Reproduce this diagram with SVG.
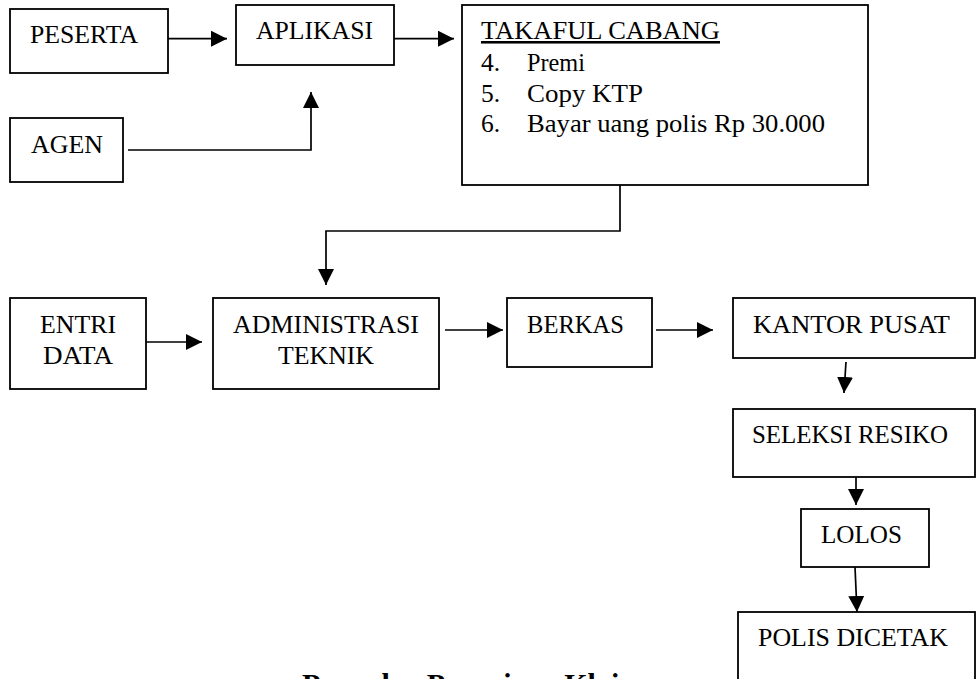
<svg xmlns="http://www.w3.org/2000/svg" width="977" height="679" viewBox="0 0 977 679">
  <style>
    .box { fill: #ffffff; stroke: #000000; stroke-width: 1.8; }
    .lbl { font-family: "Liberation Serif", "Times New Roman", serif; font-size: 25.5px; fill: #000000; }
    .ttl { font-family: "Liberation Serif", "Times New Roman", serif; font-size: 30px; font-weight: bold; fill: #000000; }
    .con { fill: none; stroke: #000000; stroke-width: 1.7; marker-end: url(#ah); }
  </style>
  <defs>
    <marker id="ah" markerUnits="userSpaceOnUse" markerWidth="16" markerHeight="16" viewBox="0 0 14 14" refX="14" refY="7" orient="auto">
      <path d="M0,0 L14,7 L0,14 Z" fill="#000000"/>
    </marker>
  </defs>
  <rect width="977" height="679" fill="#ffffff"/>

  <g id="connectors">
    <path class="con" d="M168,38.7 H227"/>
    <path class="con" d="M394,38.7 H454"/>
    <path class="con" d="M128,150 H311 V92"/>
    <path class="con" d="M620,185 V231 H326 V285"/>
    <path class="con" d="M144,342 H202"/>
    <path class="con" d="M445,330 H503"/>
    <path class="con" d="M656,330 H713"/>
    <path class="con" d="M846,362 L844,393"/>
    <path class="con" d="M856,477 V505"/>
    <path class="con" d="M855,567 L857,612"/>
  </g>

  <g id="peserta">
    <rect class="box" x="10" y="9" width="158" height="64"/>
    <text class="lbl" x="30" y="43" textLength="108" lengthAdjust="spacingAndGlyphs">PESERTA</text>
  </g>
  <g id="aplikasi">
    <rect class="box" x="236" y="5" width="158" height="60"/>
    <text class="lbl" x="256" y="39" textLength="117" lengthAdjust="spacingAndGlyphs">APLIKASI</text>
  </g>
  <g id="agen">
    <rect class="box" x="10" y="118" width="113" height="64"/>
    <text class="lbl" x="31" y="153" textLength="72" lengthAdjust="spacingAndGlyphs">AGEN</text>
  </g>
  <g id="takaful-cabang">
    <rect class="box" x="462" y="5" width="406" height="180"/>
    <text class="lbl" x="481" y="39" textLength="239" lengthAdjust="spacingAndGlyphs" text-decoration="underline">TAKAFUL CABANG</text>
    <text class="lbl" x="481" y="71">4.</text>
    <text class="lbl" x="527" y="71" textLength="58" lengthAdjust="spacingAndGlyphs">Premi</text>
    <text class="lbl" x="481" y="102">5.</text>
    <text class="lbl" x="527" y="102" textLength="116" lengthAdjust="spacingAndGlyphs">Copy KTP</text>
    <text class="lbl" x="481" y="132">6.</text>
    <text class="lbl" x="527" y="132" textLength="298" lengthAdjust="spacingAndGlyphs">Bayar uang polis Rp 30.000</text>
  </g>
  <g id="entri-data">
    <rect class="box" x="10" y="298" width="136" height="91"/>
    <text class="lbl" x="40" y="333" textLength="76" lengthAdjust="spacingAndGlyphs">ENTRI</text>
    <text class="lbl" x="43" y="364" textLength="70" lengthAdjust="spacingAndGlyphs">DATA</text>
  </g>
  <g id="administrasi-teknik">
    <rect class="box" x="213" y="298" width="226" height="91"/>
    <text class="lbl" x="233" y="333" textLength="186" lengthAdjust="spacingAndGlyphs">ADMINISTRASI</text>
    <text class="lbl" x="278" y="364" textLength="96" lengthAdjust="spacingAndGlyphs">TEKNIK</text>
  </g>
  <g id="berkas">
    <rect class="box" x="507" y="298" width="145" height="69"/>
    <text class="lbl" x="527" y="333" textLength="97" lengthAdjust="spacingAndGlyphs">BERKAS</text>
  </g>
  <g id="kantor-pusat">
    <rect class="box" x="733" y="298" width="242" height="60"/>
    <text class="lbl" x="753" y="333" textLength="197" lengthAdjust="spacingAndGlyphs">KANTOR PUSAT</text>
  </g>
  <g id="seleksi-resiko">
    <rect class="box" x="733" y="409" width="242" height="68"/>
    <text class="lbl" x="752" y="443" textLength="196" lengthAdjust="spacingAndGlyphs">SELEKSI RESIKO</text>
  </g>
  <g id="lolos">
    <rect class="box" x="801" y="509" width="128" height="58"/>
    <text class="lbl" x="821" y="543" textLength="81" lengthAdjust="spacingAndGlyphs">LOLOS</text>
  </g>
  <g id="polis-dicetak">
    <rect class="box" x="738" y="612" width="237" height="90"/>
    <text class="lbl" x="758" y="646" textLength="190" lengthAdjust="spacingAndGlyphs">POLIS DICETAK</text>
  </g>

  <text class="ttl" x="302" y="694">Prosedur Pencairan Klaim</text>
</svg>
